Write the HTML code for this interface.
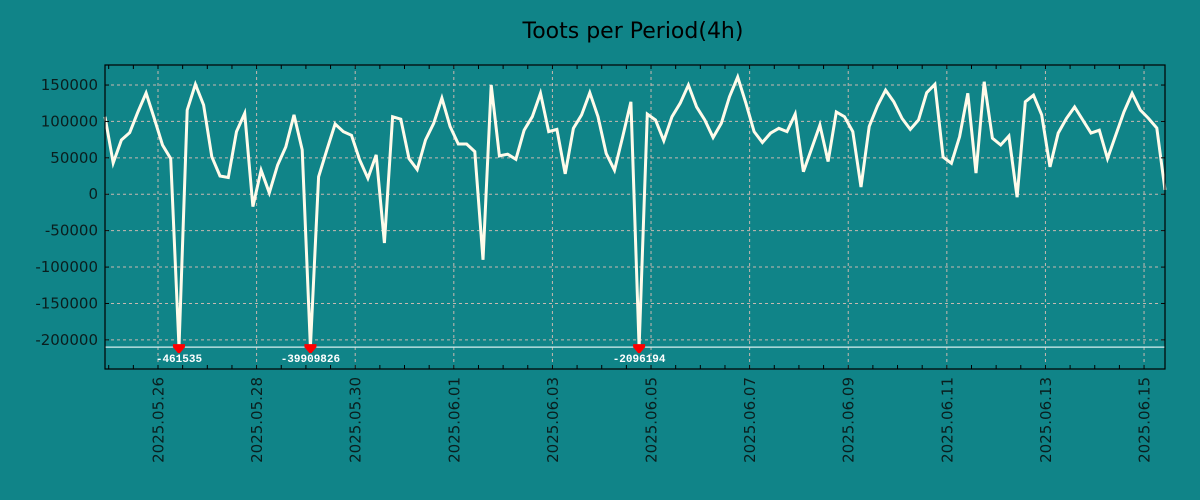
<!DOCTYPE html>
<html><head><meta charset="utf-8"><style>
html,body{margin:0;padding:0;background:#108488;}
svg{display:block;font-family:"DejaVu Sans","Liberation Sans",sans-serif;}
</style></head><body>
<svg id="chart" width="1200" height="500" viewBox="0 0 1200 500" xmlns="http://www.w3.org/2000/svg">
<rect width="1200" height="500" fill="#108488"/>
<text x="633" y="38" text-anchor="middle" font-size="22" fill="#000">Toots per Period(4h)</text>
<g id="grid"></g>
<g id="series"></g>
<g id="axes"></g>
</svg>
<script>
const values = [106500,43000,74500,84600,113000,139000,104000,67700,49000,-461535,115600,151000,122600,51600,25000,23000,86000,111000,-17000,33000,2000,40000,65000,109000,61000,-39909826,24000,61000,96500,86000,81000,47000,22000,54000,-67000,106500,103000,49000,34000,74500,97500,132000,93000,69000,69000,58500,-90000,150000,52600,55000,48000,88000,106500,138600,86000,89000,28000,90600,109000,139500,106500,56000,33000,79000,127000,-2096194,110000,102000,73600,106500,125000,150000,120000,102000,78000,97500,134000,161000,125000,86000,71000,84000,90600,86000,110000,31000,63000,95000,45000,113000,106500,86000,10000,93000,121000,143000,127000,104000,89000,102000,139500,151000,51000,42500,79000,138600,29000,154600,77000,67700,80000,-4000,127000,136000,109000,37500,84000,104000,120000,102000,84000,88000,49000,81000,113000,138600,115700,104000,91000,6000];
const startHours = -25.8; // hours relative to 2025-05-26 00:00
const stepHours = 4;
const yTicks = [150000,100000,50000,0,-50000,-100000,-150000,-200000];
const xTickLabels = ["2025.05.26","2025.05.28","2025.05.30","2025.06.01","2025.06.03","2025.06.05","2025.06.07","2025.06.09","2025.06.11","2025.06.13","2025.06.15"];
const yMin = -240000, yMax = 177500, clipValue = -210000;

const L=105,R=1165,T=65,B=369;
const NS="http://www.w3.org/2000/svg";
const tMin = startHours, tMax = startHours + stepHours*(values.length-1);
const xs = h => L + (h - tMin)/(tMax - tMin)*(R-L);
const ys = v => T + (yMax - v)/(yMax - yMin)*(B-T);
function mk(tag, attrs, parent){const e=document.createElementNS(NS,tag);for(const k in attrs)e.setAttribute(k,attrs[k]);parent.appendChild(e);return e;}
const grid=document.getElementById('grid'), ser=document.getElementById('series'), axes=document.getElementById('axes');

yTicks.forEach(v=>{
  const y=ys(v);
  const g=mk('line',{x1:L,x2:R,y1:y,y2:y,stroke:'#c8b8b0','stroke-width':1,'stroke-dasharray':'3,3'},grid);
  
  
  const t=mk('line',{x1:R-4,x2:R,y1:y,y2:y,stroke:'#000','stroke-width':1},axes);
  
  
  const t2=mk('line',{x1:L,x2:L+4,y1:y,y2:y,stroke:'#000','stroke-width':1},axes);
  
  
  const lb=mk('text',{x:L-7,y:y+5,'text-anchor':'end','font-size':15,fill:'#0a1e1e'},axes);
  lb.textContent=String(v);
  
  
});
// minor ticks every 12h
for(let h=Math.ceil(tMin/12)*12; h<=tMax; h+=12){
  const x=xs(h);
  const a=mk('line',{x1:x,x2:x,y1:B-4,y2:B,stroke:'#000','stroke-width':1},axes);
  
  
  const b=mk('line',{x1:x,x2:x,y1:T,y2:T+4,stroke:'#000','stroke-width':1},axes);
  
  
}
xTickLabels.forEach((lab,i)=>{
  const x=xs(i*48);
  const g=mk('line',{x1:x,x2:x,y1:T,y2:B,stroke:'#c8b8b0','stroke-width':1,'stroke-dasharray':'3,3'},grid);
  
  
  const t=mk('text',{x:0,y:0,'text-anchor':'end','font-size':15,fill:'#0a1e1e',transform:`translate(${x+5.5},${B+8}) rotate(-90)`},axes);
  t.textContent=lab;
  
  
});
// clip line
const cy=ys(clipValue);
const cl=mk('line',{x1:L,x2:R,y1:cy,y2:cy,stroke:'#d8f0f0','stroke-width':1.2},ser);


// series
const pts=values.map((v,i)=>[xs(startHours+i*stepHours), ys(Math.max(v,clipValue))]);
const pl=mk('polyline',{points:pts.map(p=>p[0].toFixed(1)+','+p[1].toFixed(1)).join(' '),fill:'none',stroke:'#fffbea','stroke-width':3,'stroke-linejoin':'miter'},ser);


values.forEach((v,i)=>{
  if(v>=clipValue) return;
  const x=pts[i][0];
  const m=mk('path',{d:`M${x-6},${cy-3} H${x+6} V${cy} L${x+1},${cy+6} H${x-1} L${x-6},${cy} Z`,fill:'#ff0000'},ser);
  
  
  const t=mk('text',{x:x,y:cy+15,'text-anchor':'middle','font-size':11,'font-weight':'bold',fill:'#ffffff','font-family':'"Liberation Mono",monospace'},ser);
  t.textContent=String(v);
  
  
});
const fr=mk('rect',{x:L,y:T,width:R-L,height:B-T,fill:'none',stroke:'#000','stroke-width':1.2},axes);


</script>
</body></html>
